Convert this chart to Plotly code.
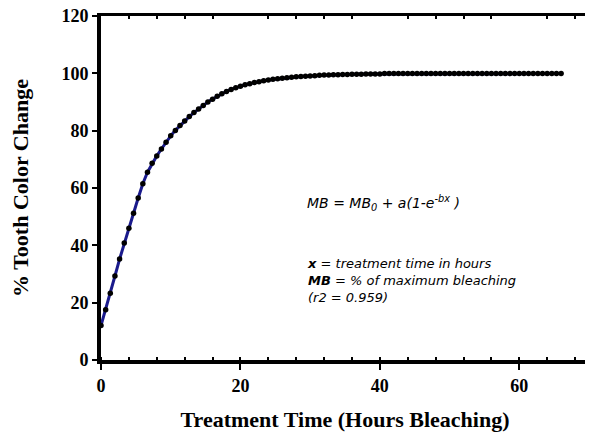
import plotly.graph_objects as go

# Treatment time (hours), one reading every 40 minutes
hours = [round(i * 2 / 3, 3) for i in range(100)]

# % tooth colour change
color_change = [
    12.0, 17.5, 23.3, 29.3, 35.2, 40.8, 46.0, 51.2, 56.5, 61.5,
    65.5, 68.6, 71.2, 73.6, 76.0, 78.2, 80.1, 81.8, 83.4, 84.9,
    86.3, 87.6, 88.8, 90.0, 91.0, 92.0, 92.9, 93.7, 94.4, 95.0,
    95.5, 96.0, 96.4, 96.8, 97.1, 97.4, 97.7, 97.9, 98.1, 98.3,
    98.5, 98.6, 98.8, 98.9, 99.0, 99.1, 99.2, 99.3, 99.4, 99.4,
    99.5, 99.5, 99.6, 99.6, 99.7, 99.7, 99.7, 99.8, 99.8, 99.8,
    99.8, 99.9, 99.9, 99.9, 99.9, 99.9, 99.9, 99.9, 99.9, 99.9,
    99.9, 99.9, 99.9, 99.9, 99.9, 99.9, 99.9, 99.9, 99.9, 99.9,
    99.9, 99.9, 99.9, 99.9, 99.9, 99.9, 99.9, 99.9, 99.9, 99.9,
    99.9, 99.9, 99.9, 99.9, 99.9, 99.9, 99.9, 99.9, 99.9, 99.9,
]

x_ticks = [0, 20, 40, 60]
y_ticks = [0, 20, 40, 60, 80, 100, 120]

serif = "Liberation Serif"
sans = "DejaVu Sans"

# the figure sits 8px in from the page's top-left corner (body margin)
OFF = 8
W, H = 593 - OFF, 432 - OFF
L, R, T, B = 101 - OFF, 4, 16 - OFF, 72

fig = go.Figure()
fig.add_trace(go.Scatter(x=hours, y=color_change, mode="lines",
                         line=dict(color="#1a1a8c", width=3), hoverinfo="skip",
                         showlegend=False))
fig.add_trace(go.Scatter(x=hours, y=color_change, mode="markers",
                         marker=dict(color="black", size=5.5), showlegend=False))
# invisible helper so the top axis (minor ticks) is drawn
fig.add_trace(go.Scatter(x=[0], y=[0], xaxis="x2", mode="markers",
                         marker=dict(opacity=0), showlegend=False, hoverinfo="skip"))

fig.update_layout(
    width=W, height=H,
    margin=dict(l=L, r=R, t=T, b=B, autoexpand=False),
    plot_bgcolor="white", paper_bgcolor="white",
    xaxis=dict(range=[0, 70], tickvals=x_ticks, ticks="outside", ticklen=6,
               tickwidth=2, tickcolor="black", showgrid=False, zeroline=False,
               showline=True, linewidth=4, linecolor="black", mirror=False,
               ticklabeloverflow="allow", automargin=False,
               minor=dict(dtick=4, ticks="inside", ticklen=3, tickwidth=1.5,
                          tickcolor="black", showgrid=False),
               tickfont=dict(family=serif, size=18, color="black", weight="bold"),
               title=dict(text="Treatment Time (Hours Bleaching)", standoff=18,
                          font=dict(family=serif, size=22, color="black", weight="bold"))),
    xaxis2=dict(range=[0, 70], overlaying="x", side="top", showline=True,
                linewidth=3, linecolor="black", ticks="", showticklabels=False,
                showgrid=False, zeroline=False, automargin=False,
                minor=dict(dtick=4, ticks="inside", ticklen=3, tickwidth=1.5,
                           tickcolor="black", showgrid=False)),
    yaxis=dict(range=[0, 120], tickvals=y_ticks, ticks="outside", ticklen=5,
               tickwidth=2, tickcolor="black", showgrid=False, zeroline=False,
               showline=True, linewidth=4, linecolor="black", mirror=True,
               ticklabeloverflow="allow", automargin=False,
               tickfont=dict(family=serif, size=18, color="black", weight="bold"),
               title=dict(text="% Tooth Color Change", standoff=28,
                          font=dict(family=serif, size=22, color="black", weight="bold"))),
)

notes = [
    (305, 203, 14, "<i>MB = MB<sub>0</sub> + a(1-e<sup>-bx</sup> )</i>"),
    (305, 280, 13, "<i><b>x</b> = treatment time in hours<br>"
                   "<b>MB</b> = % of maximum bleaching<br>(r2 = 0.959)</i>"),
]
pw, ph = W - L - R, H - T - B
for px, py, fs, txt in notes:
    fig.add_annotation(x=(px - OFF - L) / pw, y=1 - (py - OFF - T) / ph,
                       xref="paper", yref="paper", showarrow=False, text=txt,
                       xanchor="left", yanchor="middle", align="left",
                       font=dict(family=sans, size=fs, color="black"))

fig.write_html("out.html")
